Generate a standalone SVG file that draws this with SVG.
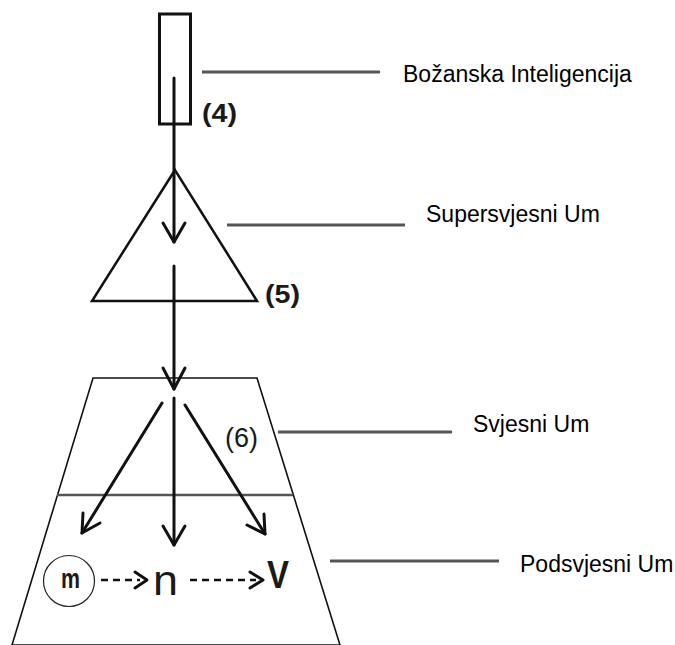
<svg xmlns="http://www.w3.org/2000/svg" width="675" height="645" viewBox="0 0 675 645">
<style>
.lbl{font-family:"Liberation Sans",Arial,sans-serif;font-size:23px;fill:#000}
.num{font-family:"Liberation Sans",Arial,sans-serif;fill:#1a1a1a}
.lead{stroke:#555;stroke-width:3;fill:none}
.arr{stroke:#111;stroke-width:3;fill:none;stroke-linecap:round;stroke-linejoin:round}
.dash{stroke:#111;stroke-width:2.5;fill:none;stroke-dasharray:7 5}
</style>
<rect width="675" height="645" fill="#fff"/>
<g id="bozanska">
<rect x="159.5" y="14" width="31" height="110" fill="none" stroke="#111" stroke-width="3"/>
<text class="num" x="202" y="122" font-size="25" font-weight="bold" textLength="35" lengthAdjust="spacingAndGlyphs">(4)</text>
</g>
<g id="supersvjesni">
<polygon points="175,170 92,301 257,301" fill="none" stroke="#111" stroke-width="2.5" stroke-linejoin="miter"/>
<text class="num" x="265" y="303" font-size="25" font-weight="bold" textLength="35" lengthAdjust="spacingAndGlyphs">(5)</text>
</g>
<g id="svjesni">
<polygon points="93,378 257,378 340,645 12,645" fill="none" stroke="#111" stroke-width="1.6"/>
<line x1="57" y1="495" x2="293" y2="495" stroke="#555" stroke-width="2.5"/>
<text class="num" x="225" y="447" font-size="28" textLength="33" lengthAdjust="spacingAndGlyphs">(6)</text>
</g>
<g id="podsvjesni">
<circle cx="69" cy="581" r="25.5" fill="none" stroke="#222" stroke-width="1.2"/>
<text class="num" x="61" y="588" font-size="27" font-weight="bold" textLength="19" lengthAdjust="spacingAndGlyphs">m</text>
<text class="num" x="153" y="595" font-size="43" textLength="25" lengthAdjust="spacingAndGlyphs">n</text>
<text class="num" x="267" y="588" font-size="39" font-weight="bold" textLength="22" lengthAdjust="spacingAndGlyphs">V</text>
</g>
<g id="connectors">
<line class="arr" x1="174" y1="78" x2="174" y2="242"/>
<polyline class="arr" points="163,223 174,242 185,223"/>
<line class="arr" x1="174" y1="266" x2="174" y2="389"/>
<polyline class="arr" points="163,368 174,389 185,368"/>
<line class="arr" x1="174" y1="398" x2="174" y2="545"/>
<polyline class="arr" points="163,526 174,545 185,526"/>
<line class="arr" x1="162" y1="403" x2="82" y2="533"/>
<polyline class="arr" points="83,513 82,533 100,523"/>
<line class="arr" x1="185" y1="405" x2="265" y2="534"/>
<polyline class="arr" points="264,514 265,534 247,525"/>
<line class="dash" x1="101" y1="580" x2="140" y2="580"/>
<polyline class="arr" stroke-width="2.5" points="135,572 147,580 135,588"/>
<line class="dash" x1="190" y1="580" x2="256" y2="580"/>
<polyline class="arr" stroke-width="2.5" points="250,572 263,580 250,588"/>
<line class="lead" x1="202" y1="72" x2="380" y2="72"/>
<line class="lead" x1="227" y1="225" x2="405" y2="225"/>
<line class="lead" x1="278" y1="432" x2="452" y2="432"/>
<line class="lead" x1="330" y1="561" x2="499" y2="561"/>
</g>
<g id="labels">
<text class="lbl" x="403" y="82">Božanska Inteligencija</text>
<text class="lbl" x="426" y="222">Supersvjesni Um</text>
<text class="lbl" x="473" y="432">Svjesni Um</text>
<text class="lbl" x="520" y="572">Podsvjesni Um</text>
</g>
</svg>
